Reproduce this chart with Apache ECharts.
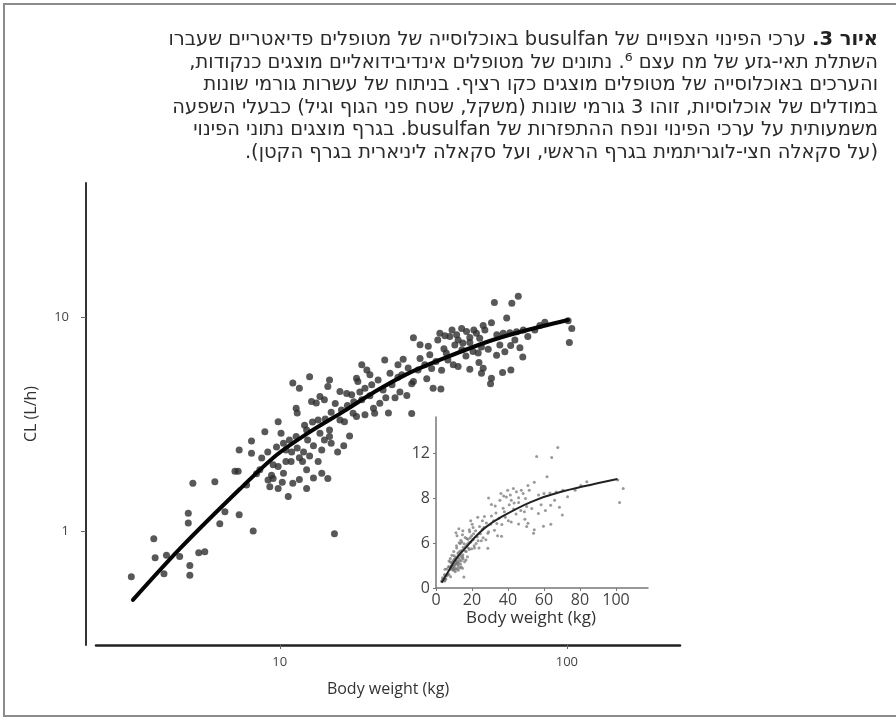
<!DOCTYPE html>
<html><head><meta charset="utf-8">
<script src="https://cdn.jsdelivr.net/npm/echarts@6/dist/echarts.min.js"></script>
<style>html,body{margin:0;padding:0;background:#fff}#c{width:896px;height:720px}</style>
</head><body><div id="c"></div>
<script>
// ---- data (body weight kg, clearance L/h) ----
const weightKg = [3.04,3.64,3.68,3.95,4.03,4.48,4.86,4.86,4.80,4.80,5.22,5.48,4.98,5.94,6.18,6.44,7.22,8.08,6.98,7.16,7.22,7.66,7.97,7.97,8.30,8.87,9.48,9.23,9.87,9.87,10.1,10.5,10.95,11.1,11.7,12.7,11.4,11.4,11.7,12.0,11.1,11.7,12.4,13.6,14.0,14.7,15.5,14.9,14.9,15.1,17.5,18.0,19.3,20.1,23.2,24.2,23.9,21.2,22.3,29.2,30.8,32.9,30.8,26.9,14.7,18.5,18.7,20.6,16.2,17.1,13.8,14.3,12.9,13.4,11.5,34.2,29.2,27.7,28.8,21.4,19.8,18.5,16.2,16.8,14.9,13.8,14.3,9.74,10.3,10.8,12.4,9.48,9.87,10.3,9.36,9.1,
67.7,64.3,55.9,61.7,54.6,51.1,51.8,43.0,44.7,41.3,39.1,48.4,49.7,57.0,60.0,63.3,66.8,70.5,63.7,53.2,56.9,70.2,47.1,49.1,104,102,101,36.6,40.2,41.8,45.9,49.4,51.1,50.4,54.6,54.2,59.7,63.8,32.5,36.4,28.8,38.0,50.4,
17.8,19.0,19.8,20.9,22.0,22.9,24.6,25.8,26.2,25.2,19.3,20.6,18.1,23.4,17.2,16.4,15.6,15.1,14.4,13.6,13.0,12.2,12.5,13.1,14.0,10.5,11.0,11.5,12.1,12.7,8.65,9.08,8.52,10.2,10.7,12.4,13.1,15.9,16.7,
33.3,35.0,37.3,38.5,43.1,44.5,40.7,45.9,35.5,33.8,30.3,32.0,28.0,26.6,25.8,36.1,37.6,39.8,41.8,43.4,45.9,47.4,58.4,60.8,65.9,68.6,73.1,77.3,80.5,83.8];
const clearanceLh = [0.61,0.92,0.75,0.63,0.77,0.76,0.69,0.62,1.21,1.09,0.79,0.80,1.67,1.70,1.08,1.23,1.19,1.00,1.90,1.90,2.39,1.64,2.31,2.63,1.85,2.91,1.76,1.61,1.58,3.24,2.86,2.11,2.11,4.91,4.65,5.26,3.75,2.76,2.20,2.11,1.67,1.74,1.58,2.11,1.86,1.76,0.97,5.08,2.76,2.57,2.78,3.55,5.98,5.66,6.30,5.46,3.56,3.75,3.95,8.0,7.42,7.30,6.40,6.35,4.73,5.17,4.99,5.37,4.48,4.39,4.25,4.10,4.03,3.96,3.56,4.65,4.99,4.30,3.54,3.55,3.49,3.43,3.30,3.24,2.96,2.86,2.66,2.47,2.57,2.66,2.96,2.04,2.00,1.86,1.82,1.73,
12.5,11.6,11.7,9.9,9.4,9.12,8.70,8.84,8.55,8.26,8.10,8.40,7.95,8.26,8.40,8.45,8.54,8.70,7.36,7.07,6.62,6.50,6.90,6.78,8.84,7.60,9.60,5.64,5.98,5.87,5.70,6.12,5.76,5.46,5.17,4.87,5.50,5.66,5.14,4.61,4.87,6.78,7.25,
4.33,4.46,4.65,4.82,5.08,4.56,4.82,5.23,4.46,4.19,4.10,4.28,4.02,4.19,3.86,3.68,3.94,3.59,3.34,3.30,3.23,3.12,2.66,2.50,2.39,2.39,2.34,2.44,2.34,2.24,2.19,2.34,1.93,1.69,1.45,1.93,1.77,2.34,2.50,
6.66,6.20,7.10,6.30,7.02,6.58,7.40,7.60,7.81,5.74,5.66,5.98,5.78,5.37,5.98,8.40,8.18,8.70,7.81,7.55,8.03,8.70,7.40,6.88,7.81,7.18,8.11,8.70,9.12,9.45];
// population model curve
const fitWeightKg = [3.08,4.48,7.26,9.77,12.7,16.8,21.4,27.7,36.1,52.6,68.6,100.8];
const fitClearanceLh = [0.476,0.824,1.57,2.27,2.90,3.64,4.47,5.41,6.30,7.64,8.51,9.68];
// ticks / labels
const mainXTicks = [10, 100];
const mainYTicks = [1, 10];
const insetXTicks = [0, 20, 40, 60, 80, 100];
const insetYTicks = [0, 4, 8, 12];
const insetYLabels = ['0', '6', '8', '12'];
const xTitle = 'Body weight (kg)';
const yTitle = 'CL (L/h)';
const captionBold = 'איור 3.';
const captionLines = [
  'ערכי הפינוי הצפויים של busulfan באוכלוסייה של מטופלים פדיאטריים שעברו',
  'השתלת תאי-גזע של מח עצם ⁶. נתונים של מטופלים אינדיבידואליים מוצגים כנקודות,',
  'והערכים באוכלוסייה של מטופלים מוצגים כקו רציף. בניתוח של עשרות גורמי שונות',
  'במודלים של אוכלוסיות, זוהו 3 גורמי שונות (משקל, שטח פני הגוף וגיל) כבעלי השפעה',
  'משמעותית על ערכי הפינוי ונפח ההתפזרות של busulfan. בגרף מוצגים נתוני הפינוי',
  '(על סקאלה חצי-לוגריתמית בגרף הראשי, ועל סקאלה ליניארית בגרף הקטן).'
];

const FONT = "'Open Sans', 'Liberation Sans', 'DejaVu Sans', sans-serif";
const HFONT = "'DejaVu Sans', 'Liberation Sans', sans-serif";
const RLE = '\u202B', PDF = '\u202C';

// fit caption font size so that the first line spans the same width as in the reference
const CAP_RIGHT = 878, CAP_LEFT = 168;
const mctx = document.createElement('canvas').getContext('2d');
mctx.font = 'bold 16px ' + HFONT;
let w16 = mctx.measureText(RLE + captionBold + PDF).width;
mctx.font = '16px ' + HFONT;
w16 += mctx.measureText(RLE + ' ' + captionLines[0] + PDF).width;
const capSize = Math.max(14, Math.min(22, 16 * (CAP_RIGHT - CAP_LEFT) / w16));

const points = weightKg.map((w, i) => [w, clearanceLh[i]]);
const curve = fitWeightKg.map((w, i) => [w, fitClearanceLh[i]]);

const graphics = [
  {type: 'rect', shape: {x: 4, y: 4, width: 910, height: 712}, style: {fill: 'none', stroke: '#8c8c8c', lineWidth: 2}, z: 10}
];
captionLines.forEach((line, i) => {
  const y = 40 + i * 22.5;
  if (i === 0) {
    graphics.push({type: 'text', x: CAP_RIGHT, y: y, z: 10, style: {
      text: '{n|' + RLE + ' ' + line + PDF + '}{b|' + RLE + captionBold + PDF + '}',
      align: 'right', verticalAlign: 'middle', textAlign: 'right', textVerticalAlign: 'middle',
      fill: '#2a2a2a', font: capSize + 'px ' + HFONT,
      rich: {n: {fontSize: capSize, fontFamily: HFONT, fill: '#2a2a2a', color: '#2a2a2a'}, b: {fontSize: capSize, fontWeight: 'bold', fontFamily: HFONT, fill: '#222', color: '#222'}}
    }});
  } else {
    graphics.push({type: 'text', x: CAP_RIGHT, y: y, z: 10, style: {
      text: RLE + line + PDF, align: 'right', verticalAlign: 'middle', textAlign: 'right', textVerticalAlign: 'middle',
      fill: '#2a2a2a', font: capSize + 'px ' + HFONT
    }});
  }
});

const chart = echarts.init(document.getElementById('c'), null, {renderer: 'canvas'});
chart.setOption({
  animation: false,
  backgroundColor: '#fff',
  grid: [
    {left: 96, right: 216, top: 183, bottom: 75},
    {left: 436, right: 248, top: 417, bottom: 132}
  ],
  xAxis: [
    {type: 'log', logBase: 10, gridIndex: 0, min: 2.29, max: 247.7,
      axisLine: {lineStyle: {color: '#222', width: 2.5}},
      axisTick: {customValues: mainXTicks, length: 4, lineStyle: {color: '#666', width: 1}},
      axisLabel: {customValues: mainXTicks, fontSize: 13, color: '#444', margin: 11, fontFamily: FONT},
      splitLine: {show: false}, minorTick: {show: false},
      name: xTitle, nameLocation: 'middle', nameGap: 36,
      nameTextStyle: {fontSize: 16, color: '#333', fontFamily: FONT}},
    {type: 'value', gridIndex: 1, min: 0, max: 117.8, interval: 20,
      axisLine: {lineStyle: {color: '#777', width: 1.5}},
      axisTick: {customValues: insetXTicks, length: 3, lineStyle: {color: '#777'}},
      axisLabel: {customValues: insetXTicks, fontSize: 16, color: '#444', margin: 4, fontFamily: FONT},
      splitLine: {show: false},
      name: xTitle, nameLocation: 'middle', nameGap: 22,
      nameTextStyle: {fontSize: 17, color: '#333', fontFamily: FONT, padding: [0, 22, 0, 0]}}
  ],
  yAxis: [
    {type: 'log', logBase: 10, gridIndex: 0, min: 0.293, max: 42.3, offset: 10,
      axisLine: {lineStyle: {color: '#333', width: 2}},
      axisTick: {customValues: mainYTicks, length: 5, lineStyle: {color: '#666', width: 1}},
      axisLabel: {customValues: mainYTicks, fontSize: 13, color: '#444', margin: 17, fontFamily: FONT},
      splitLine: {show: false}, minorTick: {show: false},
      name: yTitle, nameLocation: 'middle', nameGap: 47,
      nameTextStyle: {fontSize: 16, color: '#333', fontFamily: FONT}},
    {type: 'value', gridIndex: 1, min: 0, max: 15.2, interval: 4,
      axisLine: {lineStyle: {color: '#777', width: 1.5}},
      axisTick: {customValues: insetYTicks, length: 3, lineStyle: {color: '#777'}},
      axisLabel: {customValues: insetYTicks, fontSize: 16, color: '#444', margin: 6, fontFamily: FONT,
        formatter: v => insetYLabels[insetYTicks.indexOf(v)]},
      splitLine: {show: false}}
  ],
  series: [
    {type: 'scatter', xAxisIndex: 0, yAxisIndex: 0, data: points, symbolSize: 7,
      itemStyle: {color: '#2e2e2e'}, silent: true},
    {type: 'line', xAxisIndex: 0, yAxisIndex: 0, data: curve, smooth: 0.3, symbol: 'none',
      lineStyle: {color: '#050505', width: 4, cap: 'round'}, silent: true, z: 3},
    {type: 'scatter', xAxisIndex: 1, yAxisIndex: 1, data: points, symbolSize: 3,
      itemStyle: {color: '#777', opacity: 0.75}, silent: true},
    {type: 'line', xAxisIndex: 1, yAxisIndex: 1, data: curve, smooth: 0.3, symbol: 'none',
      lineStyle: {color: '#222', width: 2}, silent: true, z: 3}
  ],
  graphic: graphics
});
</script>
</body></html>
